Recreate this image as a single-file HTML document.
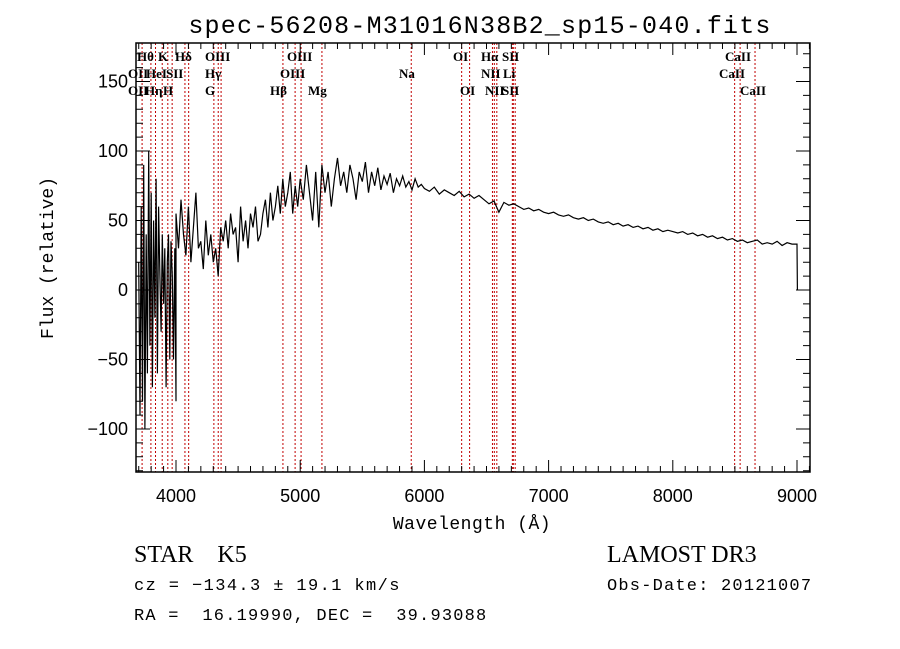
<!DOCTYPE html>
<html><head><meta charset="utf-8"><style>
body{margin:0;background:#fff;}
svg{display:block;}
text{fill:#000;}
</style></head><body>
<svg id="chart" width="900" height="649" viewBox="0 0 900 649" xmlns="http://www.w3.org/2000/svg">
<rect width="900" height="649" fill="#fff"/>
<text x="480" y="33" text-anchor="middle" style="font-family:'Liberation Mono',monospace;font-size:25px;letter-spacing:1.2px">spec-56208-M31016N38B2_sp15-040.fits</text>
<g id="lines"></g>
<g id="spec"></g>
<g id="axes" style="font-family:'Liberation Sans',sans-serif"></g>
<g id="labels" style="font-family:'Liberation Serif',serif;font-size:13px;font-weight:bold"></g>
<text x="472" y="529" text-anchor="middle" style="font-family:'Liberation Mono',monospace;font-size:18px;letter-spacing:0.5px">Wavelength (Å)</text>
<text transform="translate(53,258) rotate(-90)" text-anchor="middle" style="font-family:'Liberation Mono',monospace;font-size:18px">Flux (relative)</text>
<text x="134" y="562" style="font-family:'Liberation Serif',serif;font-size:24px">STAR&#160;&#160;&#160;&#160;K5</text>
<text x="134" y="590" style="font-family:'Liberation Mono',monospace;font-size:17px;letter-spacing:1.4px">cz = −134.3 ± 19.1 km/s</text>
<text x="134" y="620" style="font-family:'Liberation Mono',monospace;font-size:17px;letter-spacing:1.2px" xml:space="preserve">RA =  16.19990, DEC =  39.93088</text>
<text x="607" y="562" style="font-family:'Liberation Serif',serif;font-size:24px">LAMOST DR3</text>
<text x="607" y="590" style="font-family:'Liberation Mono',monospace;font-size:17px;letter-spacing:1.2px">Obs-Date: 20121007</text>
</svg>
<script>
const seg1Flux=[20,-90,60,-80,90,-100,40,-60,100,-40,70,-70,50,-20,80,-60,60,10,-30,40,-10,30,-70,20,40,-50,35,10,-50,30,-80];
const seg2Flux=[55,30,65,40,25,60,20,45,70,30,35,15,50,25,40,20,30,10,45,35,50,30,55,40,45,20,60,35,50,30,55,45,60,35,40,55,65,45,70,50,60,75,55,80,60,70,85,55,75,60];
const seg3Flux=[80,65,90,70,50,85,45,90,70,85,60,80,95,75,85,70,90,80,65,85,78,92,70,85,75,88,72,82,76,84,70,80,75,82,74,78,72,80,74,76];
const seg4Flux=[73,71,74,69,72,70,68,71,67,69,66,68,65,62,64,56,63,61,62,60,58,59,57,58,56,55,56,54,53,54,52,51,52,50,51,49,48,49,47,48,46,47,45,46,44,45,43,44,42,43,42,41,42,40,41,39,40,38,39,37,38,36,37,35,36,34,35,36,33,34,33,35,32,34,33,33];
const segStart=[3700,4000,5000,6000];
const segStep=[10,20,25,40];
const endWl=[9003];
const endFlux=[0];
const lineWl=[3727,3798,3835,3889,3934,3969,4072,4102,4305,4340,4363,4861,4959,5007,5175,5894,6300,6364,6548,6563,6583,6708,6716,6731,8498,8542,8662];
const labelText=["Hθ","K","Hδ","OIII","OIII","OI","Hα","SII","CaII","OII","HeI","SII","Hγ","OIII","Na","NII","Li","CaII","OII","Hη","H","G","Hβ","Mg","OI","NII","SII","CaII"];
const labelX=[137,158,175,205,287,453,481,502,725,128,146,166,205,280,399,481,503,719,128,145,163,205,270,308,460,485,502,740];
const labelRow=[0,0,0,0,0,0,0,0,0,1,1,1,1,1,1,1,1,1,2,2,2,2,2,2,2,2,2,2];
const xTicks=[4000,5000,6000,7000,8000,9000];
const yTicks=[-100,-50,0,50,100,150];

const L=136,R=810,T=43,B=472;
const X=w=>176+(w-4000)*0.1242;
const Y=f=>290-1.39*f;
const NS="http://www.w3.org/2000/svg";
function mk(tag,parent){const e=document.createElementNS(NS,tag);parent.appendChild(e);return e;}

const wl=[],fl=[];
[seg1Flux,seg2Flux,seg3Flux,seg4Flux].forEach((s,i)=>s.forEach((f,j)=>{wl.push(segStart[i]+j*segStep[i]);fl.push(f);}));
endWl.forEach((w,i)=>{wl.push(w);fl.push(endFlux[i]);});

const gl=document.getElementById('lines');
lineWl.forEach(w=>{const l=mk('line',gl);


l.setAttribute('x1',X(w));l.setAttribute('x2',X(w));l.setAttribute('y1',T);l.setAttribute('y2',B);
l.setAttribute('stroke','#c00000');l.setAttribute('stroke-width','1');l.setAttribute('stroke-dasharray','2,2');});

const gs=document.getElementById('spec');
const p=mk('polyline',gs);


p.setAttribute('points',wl.map((w,i)=>X(w).toFixed(1)+','+Math.max(T,Math.min(B,Y(fl[i]))).toFixed(1)).join(' '));
p.setAttribute('fill','none');p.setAttribute('stroke','#000');p.setAttribute('stroke-width','1.2');

const ga=document.getElementById('axes');
const fr=mk('rect',ga);


fr.setAttribute('x',L);fr.setAttribute('y',T);fr.setAttribute('width',R-L);fr.setAttribute('height',B-T);
fr.setAttribute('fill','none');fr.setAttribute('stroke','#000');fr.setAttribute('stroke-width','1.5');
let d='';
for(let w=3700;w<=9100;w+=100){const x=X(w);if(x<L||x>R)continue;const len=(w%1000===0)?12:6;d+=`M${x},${B}v${-len}M${x},${T}v${len}`;}
for(let f=-130;f<=170;f+=10){const y=Y(f);if(y<T||y>B)continue;const len=(f%50===0)?14:7;d+=`M${L},${y}h${len}M${R},${y}h${-len}`;}
const tk=mk('path',ga);


tk.setAttribute('d',d);tk.setAttribute('stroke','#000');tk.setAttribute('stroke-width','1');
xTicks.forEach(w=>{const t=mk('text',ga);


t.setAttribute('x',X(w));t.setAttribute('y',502);t.setAttribute('text-anchor','middle');t.setAttribute('font-size','18');t.textContent=w;});
yTicks.forEach(f=>{const t=mk('text',ga);


t.setAttribute('x',128);t.setAttribute('y',Y(f)+6);t.setAttribute('text-anchor','end');t.setAttribute('font-size','18');t.textContent=(f<0?'−'+(-f):f);});

const glab=document.getElementById('labels');
labelText.forEach((s,i)=>{const t=mk('text',glab);


t.setAttribute('x',labelX[i]);t.setAttribute('y',61+labelRow[i]*17);t.textContent=s;});
</script>
</body></html>
